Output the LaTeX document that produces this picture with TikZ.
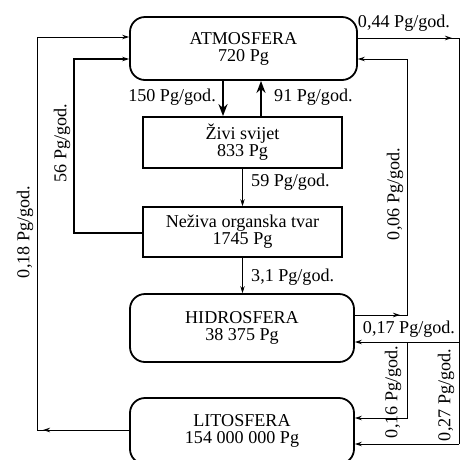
\documentclass[tikz,border=0pt]{standalone}
\usepackage{fontspec}
\setmainfont{Liberation Serif}
\usetikzlibrary{arrows.meta}
\begin{document}
\begin{tikzpicture}[x=1pt,y=-1pt,
  font=\fontsize{18.1}{17}\selectfont,
  rbox/.style={draw, line width=1.8pt, rounded corners=15pt, align=center, inner sep=0pt},
  sbox/.style={draw, line width=1.8pt, align=center, inner sep=0pt},
  flow/.style={line width=1pt},
  tip/.style={-{Stealth[length=7pt,width=4.5pt]}, line width=1pt},
  big/.style={line width=2.6pt, -{Stealth[length=12pt,width=9pt]}},
  lab/.style={inner sep=0pt}
]
\fill[white] (0,0) rectangle (471,459);
\useasboundingbox (0,0) rectangle (471,459);

% boxes
\node[rbox, minimum width=227pt, minimum height=63pt] (atm) at (243.5,48.5) {ATMOSFERA\\720 Pg};
\node[sbox, minimum width=199pt, minimum height=51pt] (ziv) at (242.5,142.5) {Živi svijet\\833 Pg};
\node[sbox, minimum width=199pt, minimum height=50pt] (nez) at (242.5,232) {Neživa organska tvar\\1745 Pg};
\node[rbox, minimum width=224pt, minimum height=68pt] (hid) at (242,328) {HIDROSFERA\\38 375 Pg};
\node[rbox, minimum width=224pt, minimum height=66pt] (lit) at (242,431) {LITOSFERA\\154 000 000 Pg};

% helper coordinates
\coordinate (L1) at (37,430);
\coordinate (L1a) at (43,430);
\coordinate (L2) at (37,37);
\coordinate (M1) at (74,233);
\coordinate (M2) at (74,59);
\coordinate (R1) at (459,38);
\coordinate (R1a) at (452,38);
\coordinate (R2) at (459,444);
\coordinate (R3) at (459,342);
\coordinate (H1) at (407,315);
\coordinate (H1a) at (400,315);
\coordinate (H2) at (407,59);
\coordinate (V1) at (407,342);
\coordinate (V2) at (407,418);
\coordinate (A150) at (223,0);
\coordinate (A91) at (261,0);

% central vertical flows
\draw[big] (atm.south -| A150) -- (ziv.north -| A150);
\draw[big] (ziv.north -| A91) -- (atm.south -| A91);
\draw[tip] (ziv.south) -- (nez.north);
\draw[tip] (nez.south) -- (nez.south |- hid.north);

% left loops
\draw[tip] (lit.west |- L1) -- (L1) -- (L2) -- (atm.west |- L2);
\draw[tip] (lit.west |- L1) -- (L1a);
\draw[tip, line width=1.8pt] (nez.west |- M1) -- (M1) -- (M2) -- (atm.west |- M2);

% right loops
\draw[flow] (atm.east |- R1) -- (R1) -- (R2);
\draw[tip] (atm.east |- R1) -- (R1a);
\draw[tip] (R2) -- (lit.east |- R2);
\draw[tip] (R3) -- (hid.east |- R3);
\draw[tip] (hid.east |- H1) -- (H1) -- (H2) -- (atm.east |- H2);
\draw[tip] (hid.east |- H1) -- (H1a);
\draw[tip] (V1) -- (V2) -- (lit.east |- V2);

% labels
\node[lab, anchor=east] at (216,97) {150 Pg/god.};
\node[lab, anchor=west] at (274,97) {91 Pg/god.};
\node[lab, anchor=west] at (251,182) {59 Pg/god.};
\node[lab, anchor=west] at (251,277) {3,1 Pg/god.};
\node[lab] at (404,23) {0,44 Pg/god.};
\node[lab] at (409,329) {0,17 Pg/god.};
\node[lab, rotate=90] at (25,232) {0,18 Pg/god.};
\node[lab, rotate=90] at (62,143) {56 Pg/god.};
\node[lab, rotate=90] at (395,194) {0,06 Pg/god.};
\node[lab, rotate=90] at (393,392) {0,16 Pg/god.};
\node[lab, rotate=90] at (446,395) {0,27 Pg/god.};
\end{tikzpicture}
\end{document}
